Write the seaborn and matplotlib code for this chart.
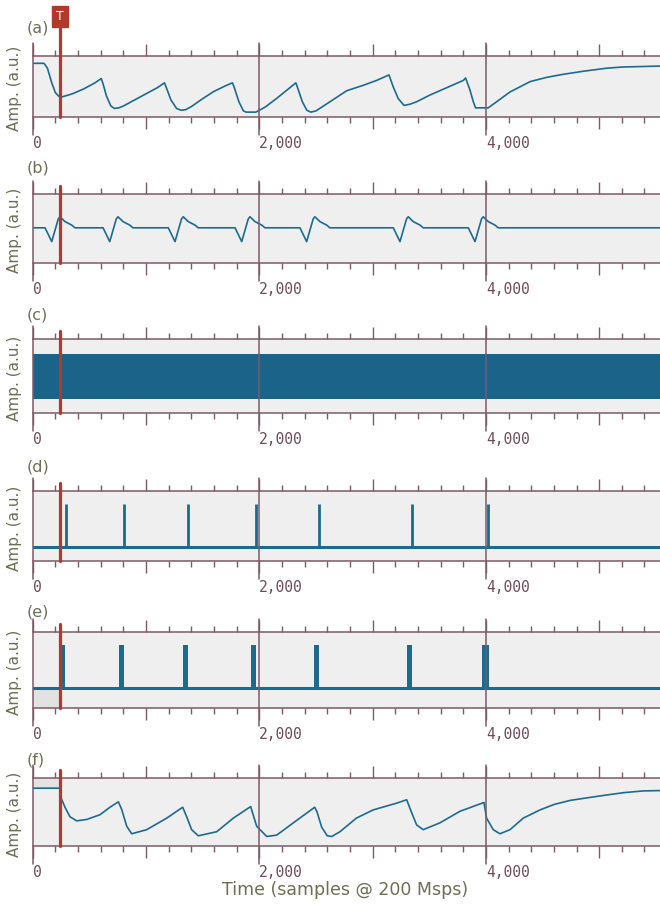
import matplotlib
matplotlib.use("Agg")
import matplotlib.pyplot as plt
import matplotlib.transforms as mtransforms
from matplotlib.ticker import MultipleLocator
import seaborn as sns

# time axis, samples @ 200 Msps
X_MAX = 5537
TRIGGER = 240
GUIDES = [0, 2000, 4000]
GUIDE_LABELS = ["0", "2,000", "4,000"]
PANEL_TAGS = ["(a)", "(b)", "(c)", "(d)", "(e)", "(f)"]

# (a) raw preamp signal (box-relative amplitude)
a_t = [0, 100, 130, 170, 200, 230, 260, 350, 450, 550, 605, 620, 650, 690, 722,
       760, 800, 900, 1000, 1100, 1163, 1180, 1220, 1270, 1310, 1350, 1400, 1500,
       1600, 1700, 1763, 1780, 1820, 1860, 1885, 1970, 2050, 2150, 2250, 2323, 2340,
       2380, 2420, 2456, 2500, 2550, 2624, 2771, 2918, 3036, 3145, 3183, 3227, 3278,
       3330, 3389, 3506, 3654, 3801, 3821, 3860, 3889, 3909, 4021, 4095, 4213, 4390,
       4537, 4683, 4860, 5066, 5213, 5537]
a_v = [0.88, 0.88, 0.80, 0.55, 0.40, 0.34, 0.33, 0.38, 0.46, 0.56, 0.63, 0.55, 0.35,
       0.18, 0.14, 0.15, 0.18, 0.28, 0.38, 0.48, 0.56, 0.48, 0.28, 0.14, 0.11, 0.12,
       0.17, 0.30, 0.42, 0.51, 0.56, 0.48, 0.25, 0.10, 0.08, 0.08, 0.16, 0.30, 0.45,
       0.56, 0.47, 0.25, 0.11, 0.08, 0.10, 0.16, 0.25, 0.43, 0.52, 0.60, 0.69, 0.49,
       0.30, 0.19, 0.21, 0.25, 0.36, 0.48, 0.60, 0.64, 0.44, 0.25, 0.15, 0.15, 0.25,
       0.41, 0.58, 0.65, 0.70, 0.75, 0.80, 0.82, 0.835]

# (b) differentiated signal: pulse starts and pulse shape
b_base = 0.51
b_starts = [109, 621, 1197, 1786, 2359, 3183, 3845]
b_shape_dt = [0, 59, 117, 132, 176, 235, 264]
b_shape_v = [0.51, 0.31, 0.64, 0.67, 0.60, 0.55, 0.51]

# (c) fast oscillating signal envelope
c_t = [0, X_MAX]
c_lo = [0.19, 0.19]
c_hi = [0.80, 0.80]

# (d) detected peaks
d_base, d_top = 0.20, 0.81
d_peaks = [291, 806, 1373, 1971, 2527, 3350, 4016]

# (e) gate pulses
e_base, e_top = 0.26, 0.83
e_starts = [255, 764, 1329, 1924, 2484, 3306, 3969]
e_widths = [30, 41, 44, 47, 40, 41, 56]

# (f) reconstructed signal
f_t = [0, 240, 245, 285, 329, 388, 476, 594, 682, 756, 785, 830, 874, 1006, 1183,
       1324, 1359, 1403, 1462, 1624, 1771, 1924, 1977, 2066, 2154, 2300, 2489, 2510,
       2550, 2600, 2640, 2712, 2857, 3004, 3212, 3301, 3345, 3389, 3447, 3594, 3771,
       3983, 4006, 4065, 4124, 4213, 4330, 4477, 4600, 4742, 4900, 5066, 5220, 5389,
       5537]
f_v = [0.85, 0.85, 0.73, 0.57, 0.43, 0.37, 0.39, 0.46, 0.57, 0.65, 0.54, 0.29, 0.18,
       0.24, 0.41, 0.57, 0.43, 0.24, 0.15, 0.21, 0.41, 0.58, 0.29, 0.14, 0.16, 0.34,
       0.57, 0.50, 0.28, 0.15, 0.14, 0.21, 0.41, 0.53, 0.63, 0.68, 0.49, 0.31, 0.24,
       0.34, 0.51, 0.64, 0.41, 0.24, 0.18, 0.24, 0.41, 0.53, 0.61, 0.67, 0.71, 0.75,
       0.785, 0.81, 0.815]

# layout in pixels (box top, box bottom) and tag y
W, H = 660, 905
X0 = 32.7
boxes = [(56, 117), (194, 263), (339, 413), (491, 561), (632, 708), (778, 846)]
tag_y = [28, 168, 315, 467, 612, 760]

sig_col = "#1d6a8f"
band_col = "#1b6389"
frame_col = "#7d5a68"
text_col = "#6e6e55"
tick_text_col = "#6e4b5b"
trig_col = "#b03a2c"
bg_col = "#efefef"
shade_col = "#e2e2e2"

sns.set_style("white")
plt.rcParams["font.family"] = ["DejaVu Sans"]

fig = plt.figure(figsize=(W / 100, H / 100), dpi=100)
axes = []
for top, bot in boxes:
    ax = fig.add_axes([X0 / W, 1 - bot / H, (W - X0) / W, (bot - top) / H])
    axes.append(ax)

for i, ax in enumerate(axes):
    top, bot = boxes[i]
    h = bot - top
    ax.set_facecolor(bg_col)
    ax.set_xlim(0, X_MAX)
    ax.set_ylim(0, 1)
    for s in ["left", "right"]:
        ax.spines[s].set_visible(False)
    for s in ["top", "bottom"]:
        ax.spines[s].set_color(frame_col)
        ax.spines[s].set_linewidth(1.1)
    ax.set_yticks([])
    ax.xaxis.set_major_locator(MultipleLocator(1000))
    ax.xaxis.set_minor_locator(MultipleLocator(200))
    ax.tick_params(axis="x", which="both", top=True, bottom=True, direction="out",
                   color=frame_col, width=1.0, labelbottom=False)
    ax.tick_params(axis="x", which="major", length=8.3)
    ax.tick_params(axis="x", which="minor", length=4.3)

    trans = mtransforms.blended_transform_factory(ax.transData, ax.transAxes)
    for g, lab in zip(GUIDES, GUIDE_LABELS):
        ax.plot([g, g], [-18 / h, 1 + 13 / h], color=frame_col, lw=1.1,
                transform=trans, clip_on=False, zorder=5)
        ax.text(g, -26 / h, lab, transform=trans, ha="left", va="center",
                family="DejaVu Sans Mono", fontsize=10.5, color=tick_text_col)

    trig_top = 1 + (top - 25) / h if i == 0 else 1 + 8 / h
    ax.plot([TRIGGER, TRIGGER], [0, trig_top], color=trig_col, lw=2.3,
            transform=trans, clip_on=False, zorder=6)

    fig.text(27 / W, 1 - tag_y[i] / H, PANEL_TAGS[i], ha="left", va="center",
             fontsize=11.5, color=text_col)
    fig.text(15 / W, 1 - ((top + bot) / 2 + 2) / H, "Amp. (a.u.)", rotation=90,
             ha="center", va="center", fontsize=11, color=text_col)

# (a)
sns.lineplot(x=a_t, y=a_v, ax=axes[0], color=sig_col, lw=1.2, estimator=None, sort=False)
ta = mtransforms.blended_transform_factory(axes[0].transData, axes[0].transAxes)
axes[0].text(TRIGGER, 1 + (56 - 16.5) / 61, "T", transform=ta, ha="center", va="center",
             color="white", fontsize=9, zorder=7,
             bbox=dict(boxstyle="square,pad=0.3", fc=trig_col, ec=trig_col))

# (b)
b_t, b_v = [0], [b_base]
for s in b_starts:
    b_t += [s + d for d in b_shape_dt]
    b_v += b_shape_v
b_t.append(X_MAX)
b_v.append(b_base)
sns.lineplot(x=b_t, y=b_v, ax=axes[1], color=sig_col, lw=1.2, estimator=None, sort=False)

# (c)
axes[2].fill_between(c_t, c_lo, c_hi, color=band_col, lw=0)

# (d)
sns.lineplot(x=[0, X_MAX], y=[d_base, d_base], ax=axes[3], color=sig_col, lw=2.2)
axes[3].vlines(d_peaks, d_base, d_top, color=sig_col, lw=2.0)

# (e)
axes[4].fill_between([0, TRIGGER], [0, 0], [e_base, e_base], color=shade_col, lw=0)
sns.lineplot(x=[0, X_MAX], y=[e_base, e_base], ax=axes[4], color=sig_col, lw=2.2)
axes[4].bar(e_starts, e_top - e_base, width=e_widths, bottom=e_base, align="edge",
            color=sig_col, lw=0)

# (f)
axes[5].fill_between([0, TRIGGER], [f_v[0], f_v[1]], [1, 1], color=shade_col, lw=0)
sns.lineplot(x=f_t, y=f_v, ax=axes[5], color=sig_col, lw=1.2, estimator=None, sort=False)

for ax in axes:
    ax.set_xlabel("")
    ax.set_ylabel("")

fig.text(345 / W, 1 - 890 / H, "Time (samples @ 200 Msps)", ha="center", va="center",
         fontsize=12.5, color=text_col)

fig.savefig("out.png", dpi=100)
